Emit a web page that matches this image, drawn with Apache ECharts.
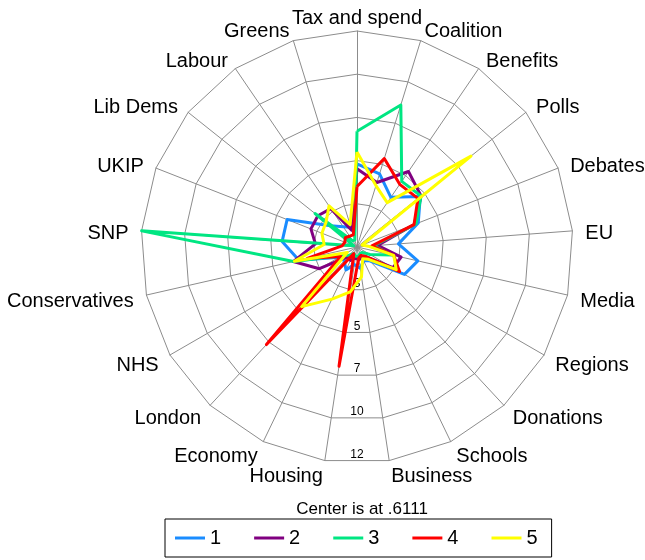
<!DOCTYPE html>
<html><head><meta charset="utf-8">
<script src="https://cdn.jsdelivr.net/npm/echarts@6/dist/echarts.min.js"></script>
<style>html,body{margin:0;padding:0;background:#fff}#c{width:645px;height:560px}</style>
</head><body><div id="c"></div>
<script>
// indicators in clockwise order starting at the top
const categories = ["Tax and spend","Coalition","Benefits","Polls","Debates","EU","Media","Regions","Donations","Schools","Business","Housing","Economy","London","NHS","Conservatives","SNP","UKIP","Lib Dems","Labour","Greens"];
const s1 = [5.0,4.65,3.78,4.88,4.08,2.8,3.9,3.5,1.6,1.4,1.75,1.55,1.95,1.6,1.7,3.75,4.57,4.57,2.4,1.9,1.7];
const s2 = [4.74,4.17,5.43,4.93,3.85,1.7,3.0,2.8,1.3,1.2,1.3,1.2,1.4,1.3,2.9,4.06,2.81,3.22,3.25,3.06,1.53];
const s3 = [6.71,8.45,4.8,4.93,3.95,1.5,2.5,1.4,1.0,1.0,1.1,1.1,1.0,1.2,1.5,4.04,12.0,0.8,3.44,1.0,1.0];
const s4 = [3.8,5.49,4.61,4.72,3.84,1.4,2.6,3.2,1.3,1.1,1.2,6.97,1.0,7.63,1.6,3.3,1.4,1.3,1.4,1.3,1.28];
const s5 = [5.62,4.0,3.44,8.3,0.9,1.2,2.6,3.0,1.5,1.3,2.2,3.0,3.66,4.9,1.2,4.0,2.35,2.6,2.7,3.23,1.84];
const seriesNames = ["1","2","3","4","5"];
const colors = ["#1a8cff","#800080","#00e682","#ff0000","#ffff00"];
const centerValue = 0.6111;
const maxValue = 12;
const ringLabels = ["","3","5","7","10","12"];

// ECharts radar runs counter-clockwise: reorder so the picture reads clockwise
const order = [0];
for (let i = categories.length - 1; i >= 1; i--) order.push(i);
const reorder = arr => order.map(i => arr[i]);

const font = "'Liberation Sans', Arial, sans-serif";
const chart = echarts.init(document.getElementById('c'));
const all = [s1,s2,s3,s4,s5];
chart.setOption({
  animation: false,
  color: colors,
  title: {
    text: "Center is at .6111", left: 357, textAlign: 'center', top: 496,
    textStyle: {fontFamily: font, fontSize: 17, fontWeight: 'normal', color: '#000'}
  },
  legend: {
    bottom: 3, left: 165,
    data: seriesNames,
    icon: 'rect', itemWidth: 30, itemHeight: 3, itemGap: 33,
    borderColor: '#000', borderWidth: 1, padding: [9, 14, 9, 10],
    textStyle: {fontFamily: font, fontSize: 20, color: '#000'}
  },
  radar: {
    center: [357, 247], radius: 216, shape: 'polygon', splitNumber: 5,
    indicator: reorder(categories).map(n => ({name: n, min: centerValue, max: maxValue})),
    axisName: {
      color: '#000', fontFamily: font, fontSize: 20,
      padding: [7, 0, 0, 0],
      formatter: n => n === categories[0] ? '{t|' + n + '}' : n,
      rich: {t: {fontFamily: font, fontSize: 20, color: '#000', lineHeight: -4}}
    },
    nameGap: 13,
    axisLine: {lineStyle: {color: '#8c8c8c', width: 1}},
    splitLine: {lineStyle: {color: '#8c8c8c', width: 1}},
    splitArea: {show: false}
  },
  polar: {center: [357, 247], radius: 213.5},
  angleAxis: {show: false, startAngle: 270, min: 0, max: 360},
  radiusAxis: {
    min: 0, max: 5, interval: 1,
    axisLine: {show: false}, axisTick: {show: false}, splitLine: {show: false},
    axisLabel: {margin: 0, align: 'center', verticalAlign: 'bottom', fontFamily: font, fontSize: 12, color: '#000',
      formatter: v => ringLabels[v] || ''}
  },
  series: all.map((s, i) => ({
    type: 'radar', name: seriesNames[i], symbol: 'none',
    lineStyle: {width: 3, color: colors[i]},
    itemStyle: {color: colors[i]},
    data: [{value: reorder(s), name: seriesNames[i]}]
  }))
});
</script></body></html>
